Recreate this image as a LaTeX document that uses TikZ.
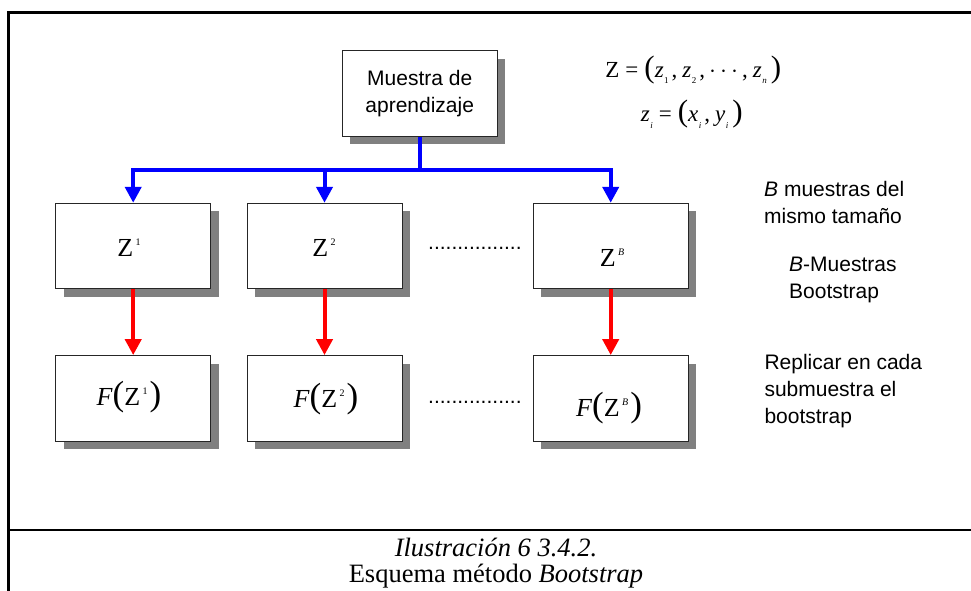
\documentclass[tikz,border=0pt]{standalone}
\usepackage{fontspec}
\setmainfont{Liberation Serif}
\setsansfont{Liberation Sans}
\usetikzlibrary{arrows.meta,shadows}

% font size helper (size, baselineskip)
\newcommand\fsz[2]{\fontsize{#1}{#2}\selectfont}
% superscript index on Z
\newcommand\upidx[1]{\hspace{2.5pt}\raisebox{11pt}{\fsz{10}{10}#1}}
% subscript index on z, x, y
\newcommand\loidx[1]{\hspace{0.5pt}\raisebox{-6.5pt}{\fsz{9}{9}#1}}
% large delimiters
\newcommand\bigd[1]{{\fsz{31}{31}#1}}
\newcommand\bigf[1]{{\fsz{35}{35}#1}}

\begin{document}
\begin{tikzpicture}[x=1pt,y=-1pt,
  frame/.style={draw=black, line width=2.4pt, line join=miter},
  box/.style={draw=black!85, line width=1pt, fill=white,
    minimum width=155pt, minimum height=85.4pt, inner sep=0pt,
    drop shadow={shadow xshift=8pt, shadow yshift=-8pt, fill=black!50, opacity=1}},
  bline/.style={draw=blue, line width=4pt, line join=miter},
  barrow/.style={bline, -{Triangle[length=16pt,width=16pt]}},
  rarrow/.style={draw=red, line width=4pt, -{Triangle[length=16pt,width=16pt]}},
  mathtxt/.style={anchor=base, inner sep=0pt, font=\fsz{26}{26}},
  eqtxt/.style={anchor=base, inner sep=0pt, font=\fsz{23}{23}},
  sidetxt/.style={anchor=base west, inner sep=0pt, font=\sffamily\fsz{21}{27}},
  dots/.style={anchor=base west, inner sep=0pt, font=\sffamily\fsz{21}{21}},
  captxt/.style={anchor=base, inner sep=0pt, font=\fsz{26.5}{27}}
]
\useasboundingbox (0,0) rectangle (971,590);

% outer frame and caption separator
\draw[frame] (8.5,600) -- (8.5,12.5) -- (990,12.5);
\draw[frame] (8.5,530) -- (990,530);

% learning sample
\node[box, font=\sffamily\fsz{21}{27.4}, align=center] (m) at (419.7,93.5) {Muestra de\\aprendizaje};

% bootstrap samples
\node[box] (z1) at (133.2,246) {};
\node[box] (z2) at (324.5,246) {};
\node[box] (zb) at (610.7,246) {};

% replicated statistics
\node[box] (f1) at (133.2,398.3) {};
\node[box] (f2) at (324.5,398.3) {};
\node[box] (fb) at (610.7,398.3) {};

% box contents
\node[mathtxt] (tz1) at (129,256.7) {Z\upidx{1}};
\node[mathtxt] (tz2) at (324,256.7) {Z\upidx{2}};
\node[mathtxt] (tzb) at (612,266.5) {Z\upidx{\textit{B}}};
\node[mathtxt] (tf1) at (129,405) {\textit{F}\bigf{(}Z\upidx{1}\hspace{2pt}\bigf{)}};
\node[mathtxt] (tf2) at (326,407) {\textit{F}\bigf{(}Z\upidx{2}\hspace{2pt}\bigf{)}};
\node[mathtxt] (tfb) at (609,416) {\textit{F}\bigf{(}Z\upidx{\textit{B}}\hspace{2pt}\bigf{)}};

% ellipsis rows
\node[dots] (d1) at (428,249.5) {................};
\node[dots] (d2) at (428,403) {................};

% splitting connectors
\path (m.south) ++(0,33.7) coordinate (j);
\draw[bline] (m.south) -- (j);
\draw[barrow] (j) -| (z1.north);
\draw[barrow] (j) -| (z2.north);
\draw[barrow] (j) -| (zb.north);

% replication connectors
\draw[rarrow] (z1.south) -- (f1.north);
\draw[rarrow] (z2.south) -- (f2.north);
\draw[rarrow] (zb.south) -- (fb.north);

% sample definition
\node[eqtxt] (eq1) at (693.3,77.3) {Z\hspace{6pt}=\hspace{6pt}\bigd{(}\textit{z}\loidx{1}\hspace{3pt},\hspace{5pt}\textit{z}\loidx{2}\hspace{3pt},\hspace{4pt}$\cdots$\hspace{4pt},\hspace{5pt}\textit{z}\loidx{\textit{n}}\hspace{4pt}\bigd{)}};
\node[eqtxt] (eq2) at (691.7,121.7) {\textit{z}\loidx{\textit{i}}\hspace{6pt}=\hspace{6pt}\bigd{(}\textit{x}\loidx{\textit{i}}\hspace{3pt},\hspace{5pt}\textit{y}\loidx{\textit{i}}\hspace{4pt}\bigd{)}};

% side notes
\node[sidetxt] (n1a) at (764,196) {\textit{B} muestras del};
\node[sidetxt] (n1b) at (764,223) {mismo tamaño};
\node[sidetxt] (n2a) at (789,271.7) {\textit{B}-Muestras};
\node[sidetxt] (n2b) at (789,298.5) {Bootstrap};
\node[sidetxt] (n3a) at (764.3,369.3) {Replicar en cada};
\node[sidetxt] (n3b) at (764.3,396.5) {submuestra el};
\node[sidetxt] (n3c) at (764.3,423.5) {bootstrap};

% caption
\node[captxt] (c1) at (496,556.7) {\textit{Ilustración 6 3.4.2.}};
\node[captxt] (c2) at (496,582.5) {Esquema método \textit{Bootstrap}};
\end{tikzpicture}
\end{document}
